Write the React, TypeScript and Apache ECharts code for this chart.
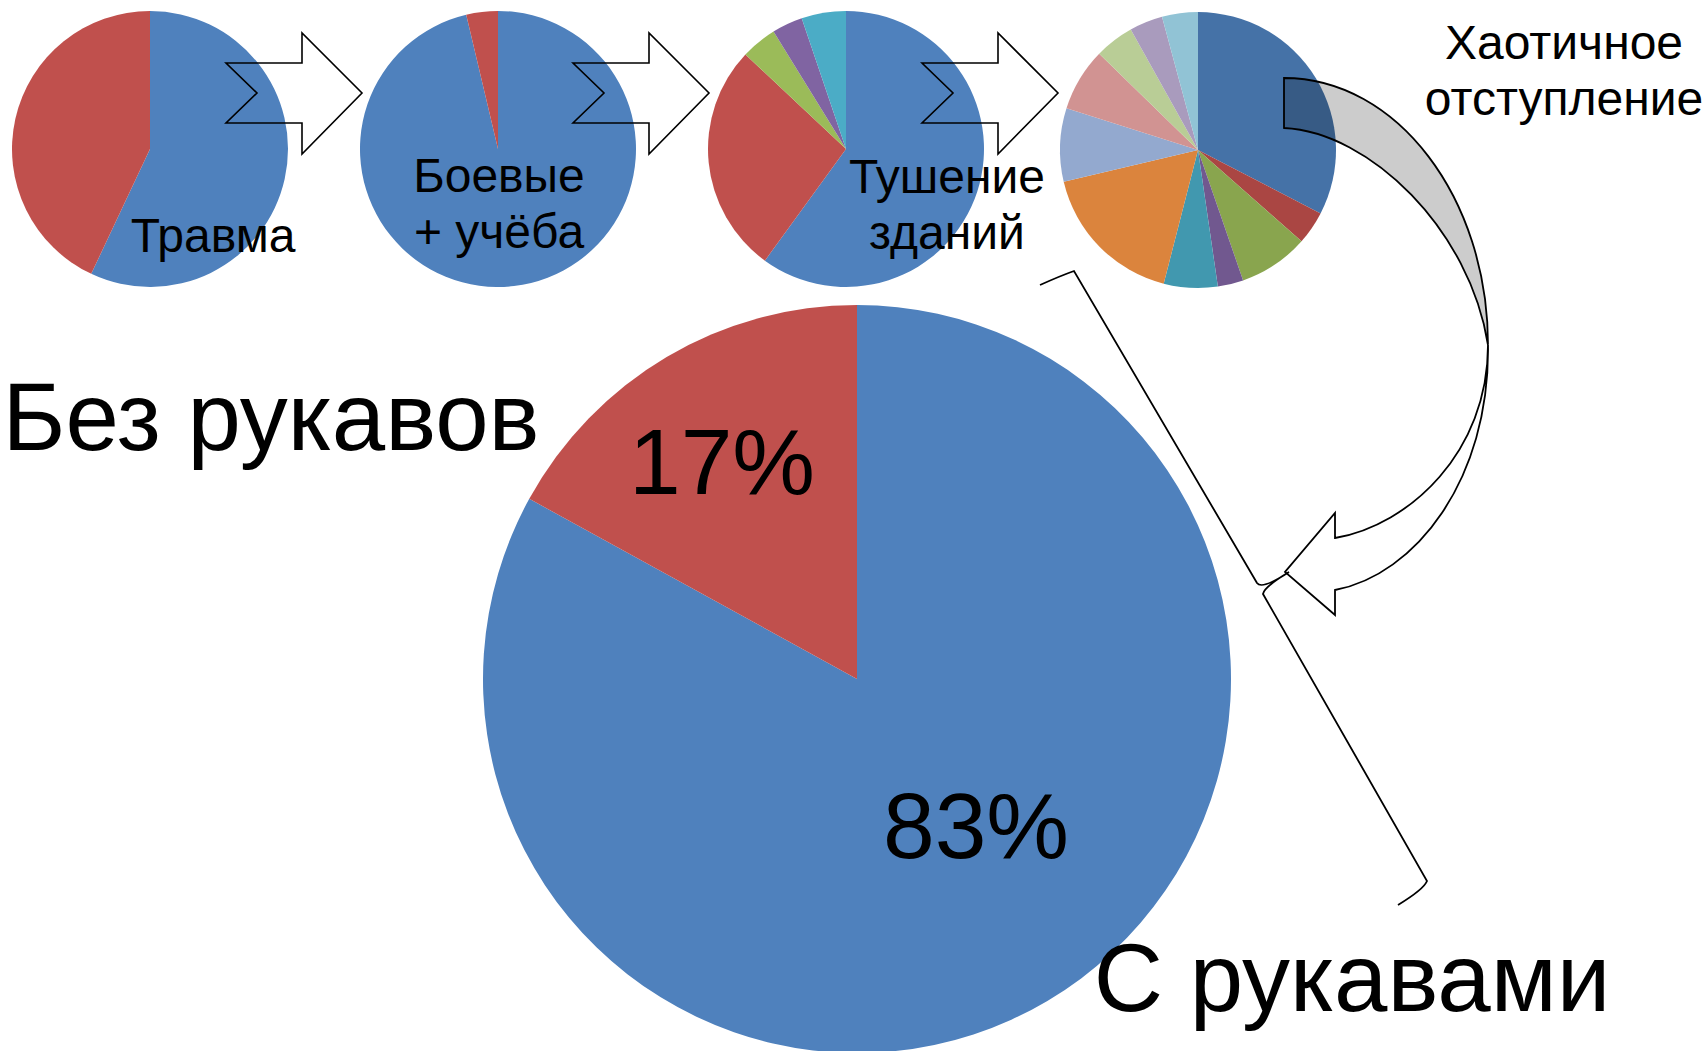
import React, { useEffect, useRef } from "react";
import * as echarts from "echarts";

// ---------- data ----------
const injuryValues = [57, 43];
const combatValues = [96.3, 3.7];
const buildingValues = [60, 27, 4.2, 3.6, 5.2];
const retreatValues = [32.6, 3.9, 8.2, 3.0, 6.3, 17.3, 8.6, 7.4, 4.6, 3.9, 4.2];
const sleeveCategories = ["С рукавами", "Без рукавов"];
const sleeveValues = [83, 17];
const smallPieLabels = ["Травма", "Боевые\n+ учёба", "Тушение\nзданий", "Хаотичное\nотступление"];

// ---------- styles / layout ----------
const officeColors = ["#4F81BD", "#C0504D", "#9BBB59", "#8064A2", "#4BACC6"];
const retreatColors = [
  "#4572A7", "#AA4643", "#89A54E", "#71588F", "#4198AF", "#DB843D",
  "#93A9CF", "#D19392", "#B9CD96", "#A99BBD", "#91C3D5",
];
const FONT_FAMILY = "Liberation Sans";
const smallCenters = [[150, 149], [498, 149], [846, 149], [1198, 150]];
const smallRadius = 138;
const bigCenter = [857, 679];
const bigRadius = 374;
const smallLabelPos = [[213, 252], [499, 192], [947, 193], [1564, 59]];
const arrowLefts = [226, 573, 922];

const bandD =
  "M1284 78 C1397 78 1488 198 1488 345 C1470 230 1370 132 1284 128 Z";
const lowerD =
  "M1488 345 C1488 452 1410 525 1335 538 L1335 513 L1285 572 L1335 615 L1335 590 C1415 575 1490 480 1488 345";
const braceD =
  "M1040 285 Q1060 276 1074 271 L1257 583 Q1262 590 1289 572 M1289 572 Q1264 587 1263 594 L1427 881 Q1424 889 1398 905";

echarts.graphic.registerShape("bandShape", echarts.graphic.extendPath(bandD, {}));
echarts.graphic.registerShape("lowerArrowShape", echarts.graphic.extendPath(lowerD, {}));
echarts.graphic.registerShape("braceShape", echarts.graphic.extendPath(braceD, {}));

function pieSeries(values: number[], colors: string[], center: number[], radius: number, names?: string[]) {
  return {
    type: "pie",
    center,
    radius,
    startAngle: 90,
    clockwise: true,
    silent: true,
    label: { show: false },
    labelLine: { show: false },
    emphasis: { disabled: true },
    itemStyle: { borderWidth: 0 },
    data: values.map((v, i) => ({
      value: v,
      name: names ? names[i] : String(i),
      itemStyle: { color: colors[i % colors.length] },
    })),
  };
}

function textEl(text: string, x: number, baseline: number, size: number) {
  const y = baseline - size * 0.35;
  return {
    type: "text",
    z: 20,
    silent: true,
    style: {
      text,
      x,
      y,
      fill: "#000",
      fontSize: size,
      fontFamily: FONT_FAMILY,
      align: "center",
      verticalAlign: "middle",
      textAlign: "center",
      textVerticalAlign: "middle",
    },
  };
}

export default function App() {
  const ref = useRef<HTMLDivElement>(null);
  useEffect(() => {
    document.body.style.margin = "0";
    const chart = echarts.init(ref.current!, null, { renderer: "svg" });

    const graphics: any[] = [];
    // block arrows
    arrowLefts.forEach((x0) => {
      graphics.push({
        type: "polygon",
        z: 15,
        silent: true,
        shape: {
          points: [
            [x0, 63], [x0 + 76, 63], [x0 + 76, 33], [x0 + 136, 93],
            [x0 + 76, 154], [x0 + 76, 123], [x0, 123], [x0 + 31, 93],
          ],
        },
        style: { fill: "none", stroke: "#000", lineWidth: 1.6 },
      });
    });
    // small labels
    smallPieLabels.forEach((lbl, i) => {
      lbl.split("\n").forEach((line, j) => {
        graphics.push(textEl(line, smallLabelPos[i][0], smallLabelPos[i][1] + j * 56, 48));
      });
    });
    // curved arrow
    graphics.push({
      type: "bandShape", x: 0, y: 0, z: 15, silent: true,
      style: { fill: "rgba(0,0,0,0.2)", stroke: "#000", lineWidth: 1.8 },
    });
    graphics.push({
      type: "lowerArrowShape", x: 0, y: 0, z: 15, silent: true,
      style: { fill: "none", stroke: "#000", lineWidth: 1.8 },
    });
    graphics.push({
      type: "braceShape", x: 0, y: 0, z: 15, silent: true,
      style: { fill: "none", stroke: "#000", lineWidth: 1.8 },
    });
    // big labels
    graphics.push(textEl(sleeveCategories[1], 271, 450, 96));
    graphics.push(textEl(sleeveCategories[0], 1352, 1011, 96));
    graphics.push(textEl(`${sleeveValues[1]}%`, 722, 495, 93));
    graphics.push(textEl(`${sleeveValues[0]}%`, 976, 859, 93));

    chart.setOption({
      animation: false,
      backgroundColor: "#ffffff",
      textStyle: { fontFamily: FONT_FAMILY },
      series: [
        pieSeries(injuryValues, officeColors, smallCenters[0], smallRadius),
        pieSeries(combatValues, officeColors, smallCenters[1], smallRadius),
        pieSeries(buildingValues, officeColors, smallCenters[2], smallRadius),
        pieSeries(retreatValues, retreatColors, smallCenters[3], smallRadius),
        pieSeries(sleeveValues, officeColors, bigCenter, bigRadius, sleeveCategories),
      ],
      graphic: { elements: graphics },
    });
    return () => chart.dispose();
  }, []);
  return (
    <div
      ref={ref}
      style={{ position: "absolute", left: 0, top: 0, width: 1708, height: 1051, background: "#fff" }}
    />
  );
}
